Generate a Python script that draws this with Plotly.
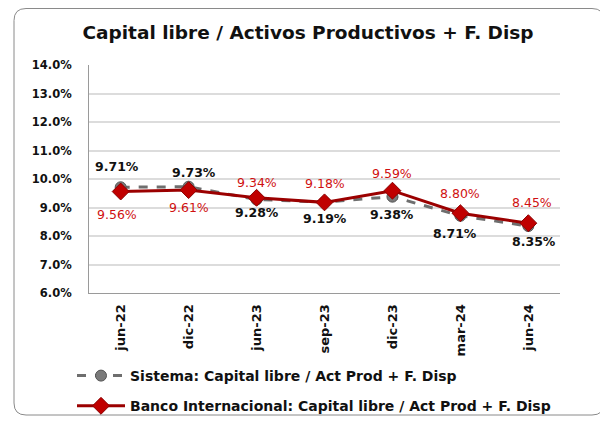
import plotly.graph_objects as go

categories = ["jun-22", "dic-22", "jun-23", "sep-23", "dic-23", "mar-24", "jun-24"]
sistema = [0.0971, 0.0973, 0.0928, 0.0919, 0.0938, 0.0871, 0.0835]
banco = [0.0956, 0.0961, 0.0934, 0.0918, 0.0959, 0.0880, 0.0845]
y_ticks = [0.06, 0.07, 0.08, 0.09, 0.10, 0.11, 0.12, 0.13, 0.14]

# label placement (pixel offsets relative to each point)
sistema_dy = [21, 14, -13, -16, -18, -18, -15]
sistema_dx = [-4, 5, 0, 0, 0, -5, 6]
banco_dy = [-23, -17, 15, 19, 17, 20, 21]
banco_dx = [-4, 0, 0, 0, 0, 0, 4]

FONT = "DejaVu Sans"

fig = go.Figure()
fig.add_trace(go.Scatter(
    x=categories, y=sistema, name="Sistema: Capital libre / Act Prod + F. Disp",
    mode="lines+markers",
    line=dict(color="#6e6e6e", width=3, dash="dash"),
    marker=dict(symbol="circle", size=11, color="#7a7a7a", line=dict(color="#555555", width=1)),
    legendgroup="a", cliponaxis=False,
))
fig.add_trace(go.Scatter(
    x=categories, y=banco, name="Banco Internacional: Capital libre / Act Prod + F. Disp",
    mode="lines+markers",
    line=dict(color="#9b0000", width=3),
    marker=dict(symbol="diamond", size=13, color="#c00000", line=dict(color="#8b0000", width=1)),
    legendgroup="b", cliponaxis=False,
))

annotations = []
for c, v, dy, dx in zip(categories, sistema, sistema_dy, sistema_dx):
    annotations.append(dict(x=c, y=v, xref="x", yref="y", text=f"<b>{v*100:.2f}%</b>",
                            showarrow=False, yshift=dy, xshift=dx,
                            font=dict(family=FONT, size=12.5, color="#111111")))
for c, v, dy, dx in zip(categories, banco, banco_dy, banco_dx):
    annotations.append(dict(x=c, y=v, xref="x", yref="y", text=f"{v*100:.2f}%",
                            showarrow=False, yshift=dy, xshift=dx,
                            font=dict(family=FONT, size=12.5, color="#d01010")))

# page has an 8px body margin; figure coordinates = page coordinates - 8
OFF = 8
W, H = 600, 415
L, R, T, B = 89 - OFF, W - (560 - OFF), 65 - OFF, H - (293 - OFF)
pw, ph = W - L - R, H - T - B
def px(x): return (x - OFF - L) / pw
def py(y): return (H - B - (y - OFF)) / ph
x0, x1, y0, y1 = px(14), px(604), py(415), (H - B - 0.5) / ph
rx, ry = 12 / pw, 12 / ph
path = (f"M {x0+rx},{y1} L {x1-rx},{y1} Q {x1},{y1} {x1},{y1-ry} L {x1},{y0+ry} "
        f"Q {x1},{y0} {x1-rx},{y0} L {x0+rx},{y0} Q {x0},{y0} {x0},{y0+ry} "
        f"L {x0},{y1-ry} Q {x0},{y1} {x0+rx},{y1} Z")

fig.update_layout(
    width=W, height=H,
    margin=dict(l=L, r=R, t=T, b=B, autoexpand=False),
    paper_bgcolor="white", plot_bgcolor="white",
    font=dict(family=FONT, color="#111111"),
    title=dict(text="<b>Capital libre / Activos Productivos + F. Disp</b>",
               x=0.5, xanchor="center", y=1 - (33 - OFF) / H, yanchor="middle",
               font=dict(family=FONT, size=18.5, color="#111111")),
    showlegend=True,
    legend=dict(x=px(72), y=py(360), xanchor="left", yanchor="top",
                font=dict(family=FONT, size=14, color="#111111", weight="bold"),
                tracegroupgap=9, itemwidth=48, bgcolor="rgba(0,0,0,0)"),
    shapes=[dict(type="path", xref="paper", yref="paper", path=path,
                 line=dict(color="#8a8a8a", width=1), layer="below")],
    annotations=annotations,
)
fig.update_xaxes(type="category", tickangle=-90, showgrid=False,
                 showline=True, linecolor="#9a9a9a", linewidth=1,
                 tickfont=dict(family=FONT, size=13, color="#111111", weight="bold"),
                 ticks="", ticklen=0, ticklabelstandoff=5)
fig.update_yaxes(range=[0.06, 0.14], tickvals=y_ticks, tickformat=".1%",
                 showgrid=True, gridcolor="#dcdcdc", gridwidth=2,
                 showline=True, linecolor="#9a9a9a", linewidth=1, zeroline=False,
                 tickfont=dict(family=FONT, size=11.5, color="#111111", weight="bold"),
                 ticks="", ticklabelstandoff=14)

fig.write_html("out.html")
